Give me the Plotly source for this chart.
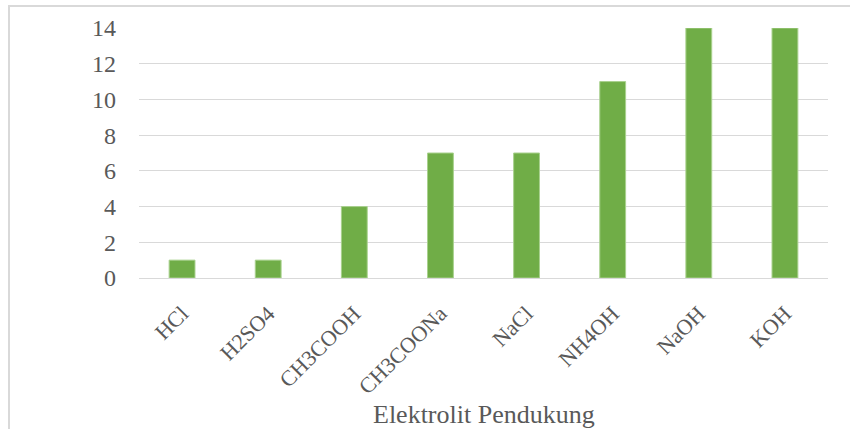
import plotly.graph_objects as go

categories = ["HCl", "H2SO4", "CH3COOH", "CH3COONa", "NaCl", "NH4OH", "NaOH", "KOH"]
ph_values = [1, 1, 4, 7, 7, 11, 14, 14]
y_ticks = [0, 2, 4, 6, 8, 10, 12, 14]

W, H = 850, 429
L, R, T, B = 139, 22, 28, 151
pw, ph = W - L - R, H - T - B

def px_x(x):
    return (x - L) / pw

def px_y(y):
    return (H - B - y) / ph

font_family = "Liberation Serif, Times New Roman, serif"
grey = "#595959"

fig = go.Figure()
fig.add_trace(go.Bar(
    x=categories, y=ph_values,
    marker=dict(color="#70ad47", line=dict(color="#a9d18e", width=1)),
    width=0.3,
))

fig.update_layout(
    width=W, height=H,
    margin=dict(l=L, r=R, t=T, b=B, autoexpand=False),
    paper_bgcolor="white", plot_bgcolor="white",
    showlegend=False,
    font=dict(family=font_family, color=grey, size=24),
    xaxis=dict(
        tickangle=-45, tickfont=dict(size=22, color=grey, family=font_family),
        showline=True, linecolor="#d9d9d9", linewidth=1,
        showgrid=False, ticks="", ticklabelstandoff=13, automargin=False,
    ),
    yaxis=dict(
        range=[0, 14], tickvals=y_ticks,
        tickfont=dict(size=24, color=grey, family=font_family),
        showgrid=True, gridcolor="#d9d9d9", gridwidth=1,
        zeroline=False, showline=False, ticks="", ticklabelstandoff=22,
        automargin=False,
    ),
    # helper axis (no data) used only to place the y title lower, as in the reference
    yaxis2=dict(
        domain=[0, 0.744], anchor="x", side="left",
        showticklabels=False, showgrid=False, zeroline=False, showline=False,
        ticks="", automargin=False, fixedrange=True,
        title=dict(text="Derajat Keasaman (pH)", standoff=73,
                   font=dict(size=27, color=grey, family=font_family)),
    ),
    annotations=[
        dict(text="Elektrolit Pendukung", xref="paper", yref="paper",
             x=0.5, y=px_y(414), showarrow=False,
             font=dict(size=26, color=grey, family=font_family),
             xanchor="center", yanchor="middle"),
    ],
    shapes=[
        dict(type="rect", xref="paper", yref="paper",
             x0=px_x(9), x1=px_x(862), y0=px_y(440), y1=px_y(6),
             line=dict(color="#d9d9d9", width=2), layer="below"),
    ],
)

fig.write_html("out.html", config={"displayModeBar": False},
               post_script="document.body.style.margin='0';")
